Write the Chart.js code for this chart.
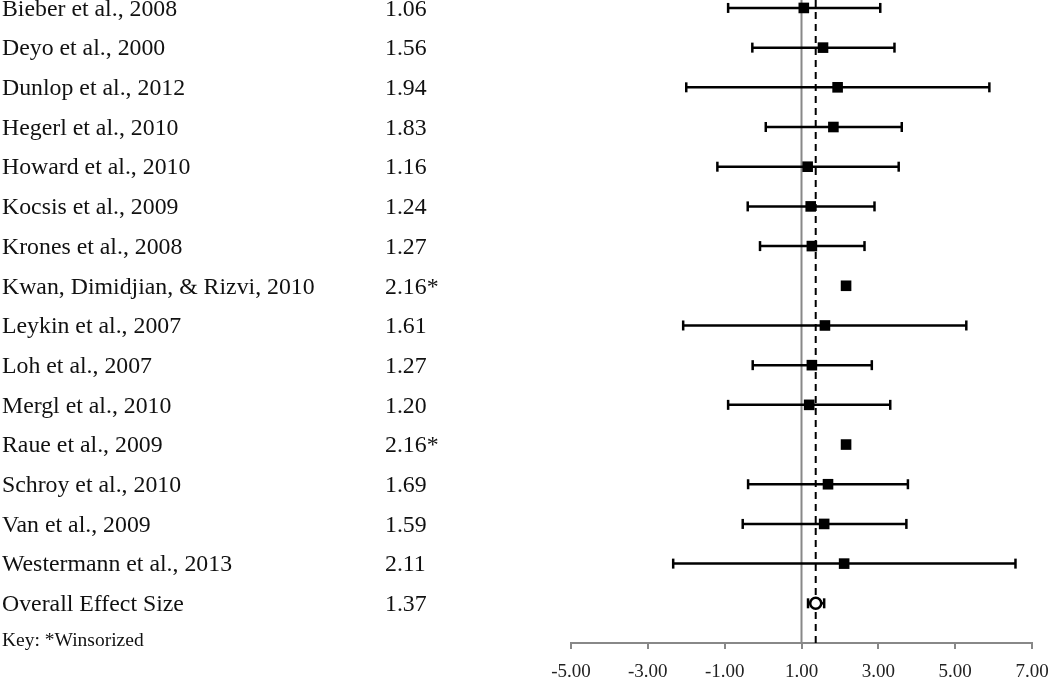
<!DOCTYPE html>
<html>
<head>
<meta charset="utf-8">
<script src="https://cdn.jsdelivr.net/npm/chart.js@4.4.1/dist/chart.umd.min.js"></script>
<style>
  html, body { margin: 0; padding: 0; background: #fff; }
  #wrap { width: 1050px; height: 681px; position: relative; }
</style>
</head>
<body>
<div id="wrap"><canvas id="forestChart"></canvas></div>
<script>
// studies, top to bottom
const studies = [
    'Bieber et al., 2008',
    'Deyo et al., 2000',
    'Dunlop et al., 2012',
    'Hegerl et al., 2010',
    'Howard et al., 2010',
    'Kocsis et al., 2009',
    'Krones et al., 2008',
    'Kwan, Dimidjian, & Rizvi, 2010',
    'Leykin et al., 2007',
    'Loh et al., 2007',
    'Mergl et al., 2010',
    'Raue et al., 2009',
    'Schroy et al., 2010',
    'Van et al., 2009',
    'Westermann et al., 2013',
    'Overall Effect Size'
];
const effects = [1.06, 1.56, 1.94, 1.83, 1.16, 1.24, 1.27, 2.16, 1.61, 1.27, 1.20, 2.16, 1.69, 1.59, 2.11, 1.37];
const lower   = [-0.91, -0.28, -2.00, 0.07, -1.19, -0.40, -0.08, null, -2.08, -0.27, -0.91, null, -0.39, -0.53, -2.34, 1.17];
const upper   = [3.05, 3.42, 5.89, 3.61, 3.53, 2.90, 2.64, null, 5.29, 2.83, 3.31, null, 3.77, 3.73, 6.57, 1.59];
const winsorized = [false, false, false, false, false, false, false, true, false, false, false, true, false, false, false, false];
const xTicks = [-5, -3, -1, 1, 3, 5, 7];
const noEffect = 1;
const overallIndex = studies.length - 1;

const SERIF = '"Liberation Serif", "Times New Roman", serif';
const yMin = -0.2, yMax = 16.0;

// error bars, one line per study (caps are vertical 'line' points)
const barSets = [];
studies.forEach((name, i) => {
    if (lower[i] === null) return;
    barSets.push({
        type: 'line',
        data: [{ x: lower[i], y: i }, { x: upper[i], y: i }],
        borderColor: '#000',
        borderWidth: 2.5,
        pointStyle: 'line',
        pointRotation: 90,
        pointRadius: 5,
        pointBorderWidth: 2.5,
        pointBorderColor: '#000',
        order: 2
    });
});

const datasets = [
    {
        // study estimates
        type: 'scatter',
        data: effects.slice(0, overallIndex).map((v, i) => ({ x: v, y: i })),
        pointStyle: 'rect',
        pointRadius: 7.5,
        backgroundColor: '#000',
        borderColor: '#000',
        borderWidth: 0,
        order: 0
    },
    {
        // overall estimate
        type: 'scatter',
        data: [{ x: effects[overallIndex], y: overallIndex }],
        pointStyle: 'circle',
        pointRadius: 5.5,
        backgroundColor: '#fff',
        borderColor: '#000',
        borderWidth: 2.5,
        order: 0
    },
    ...barSets,
    {
        // line of no effect
        type: 'line',
        data: [{ x: noEffect, y: yMin }, { x: noEffect, y: yMax }],
        borderColor: '#888',
        borderWidth: 2,
        pointRadius: 0,
        order: 3
    },
    {
        // overall effect reference
        type: 'line',
        data: [{ x: effects[overallIndex], y: yMin }, { x: effects[overallIndex], y: yMax }],
        borderColor: '#000',
        borderWidth: 2,
        borderDash: [7, 5],
        pointRadius: 0,
        order: 3
    }
];

// study names + values on the left
const textColumns = {
    id: 'textColumns',
    afterDraw(chart) {
        const ctx = chart.ctx;
        const y = chart.scales.y;
        ctx.save();
        ctx.fillStyle = '#111';
        ctx.textBaseline = 'middle';
        ctx.font = '23.8px ' + SERIF;
        studies.forEach((name, i) => {
            const py = y.getPixelForValue(i) + 1.5;
            ctx.fillText(name, 2, py);
            ctx.fillText(effects[i].toFixed(2) + (winsorized[i] ? '*' : ''), 385, py);
        });
        ctx.font = '19.5px ' + SERIF;
        ctx.fillText('Key: *Winsorized', 2, 641);
        ctx.restore();
    }
};

new Chart(document.getElementById('forestChart'), {
    type: 'scatter',
    data: { datasets: datasets },
    options: {
        responsive: true,
        maintainAspectRatio: false,
        animation: false,
        events: [],
        layout: { autoPadding: false, padding: { left: 571, right: 18, top: 0, bottom: 0 } },
        scales: {
            x: {
                type: 'linear',
                min: -5,
                max: 7,
                afterBuildTicks: s => { s.ticks = xTicks.map(v => ({ value: v })); },
                afterFit: s => { s.height = 38; s.paddingLeft = 0; s.paddingRight = 0; },
                ticks: {
                    callback: v => Number(v).toFixed(2),
                    color: '#222',
                    font: { family: SERIF, size: 19, lineHeight: 1 },
                    maxRotation: 0,
                    padding: 14
                },
                grid: { drawOnChartArea: false, drawTicks: true, tickLength: 6, color: '#888', lineWidth: 2 },
                border: { color: '#888', width: 2 }
            },
            y: {
                type: 'linear',
                reverse: true,
                min: yMin,
                max: yMax,
                display: false
            }
        },
        plugins: {
            legend: { display: false },
            tooltip: { enabled: false }
        }
    },
    plugins: [textColumns]
});
</script>
</body>
</html>
